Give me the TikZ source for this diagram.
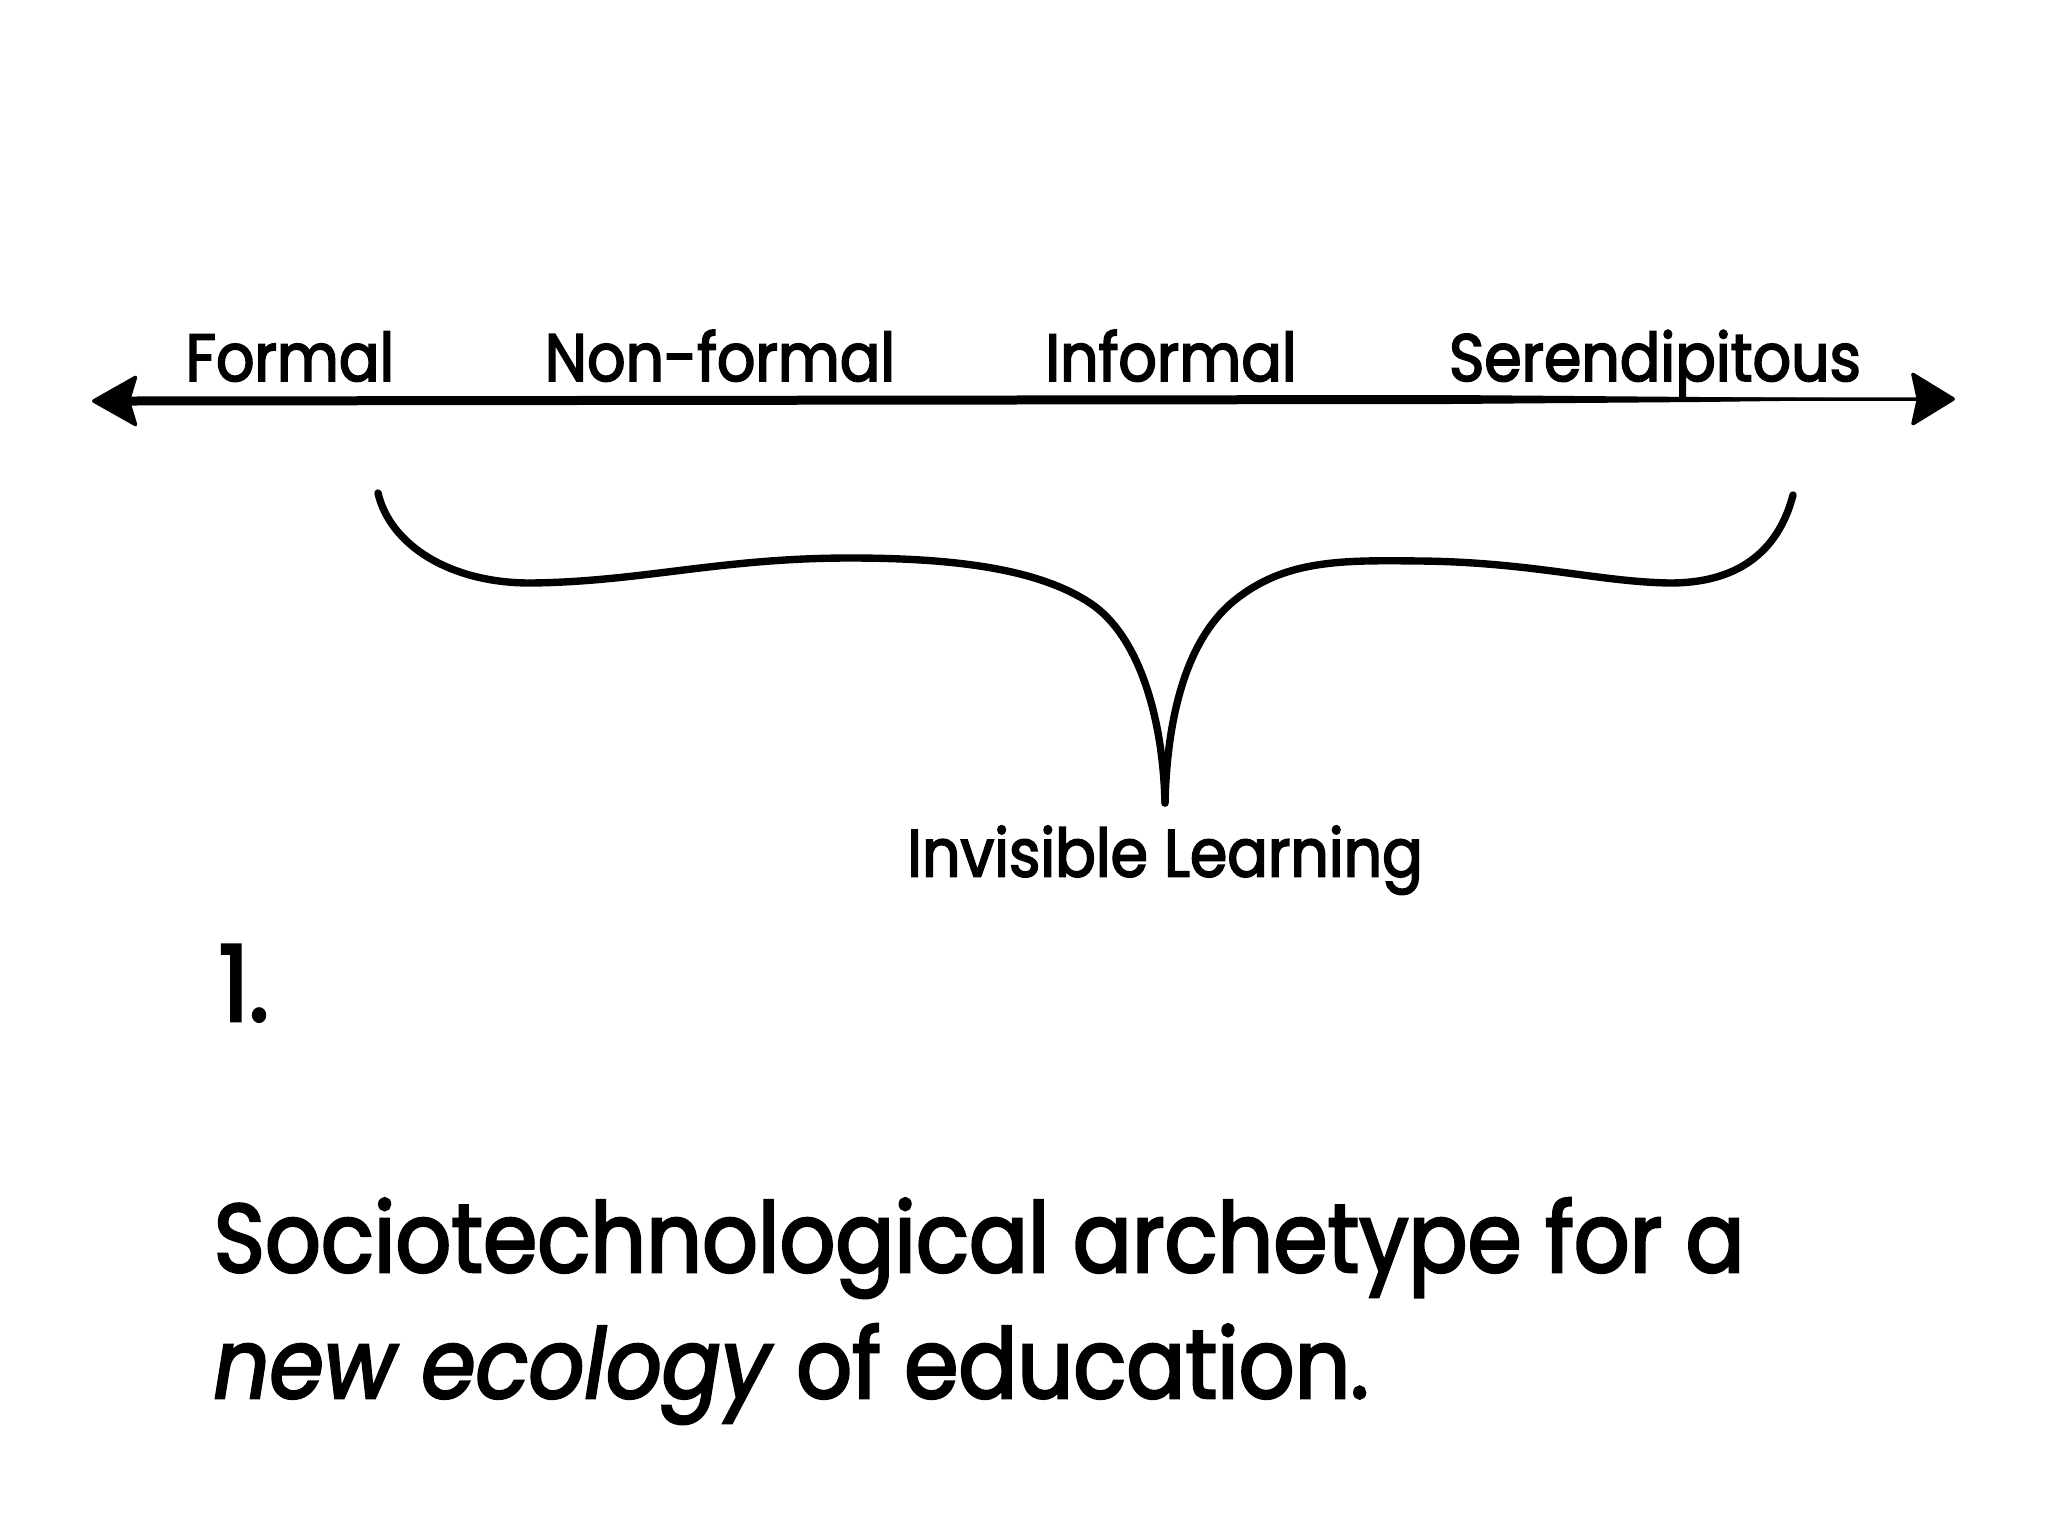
\documentclass[tikz,border=0pt]{standalone}
\usepackage{fontspec}
\setmainfont{Poppins}[FakeStretch=0.9, FakeBold=2.6]
\usepackage{tikz}
\usetikzlibrary{positioning}
\usetikzlibrary{arrows.meta}

\tikzset{
  kind/.style={inner sep=0pt, anchor=base, font=\fontsize{19}{22}\selectfont},
  headline/.style={inner sep=0pt, anchor=base west, font=\fontsize{27.6}{34}\selectfont},
  brush/.style={line width=2.1pt, line cap=round, line join=round}
}

\begin{document}
\begin{tikzpicture}[x=0.01cm,y=-0.01cm]
\useasboundingbox (0,0) rectangle (2048,1536);
% the axis
\coordinate (lefttip) at (92,401);
\coordinate (righttip) at (1955,399);
\path (lefttip) edge[{Stealth[length=0.48cm,width=0.54cm,inset=0.08cm,round]}-{Stealth[length=0.46cm,width=0.56cm,inset=0.06cm,round]}, line width=1pt] (righttip);
\fill (130,396.5) -- (1450,395) -- (1700,397) -- (1905,398.6) -- (1905,399.4) -- (1700,402) -- (1450,404) -- (130,405.5) -- cycle;
% labels
\node[kind](formal) at (290,381){Formal};
\node[kind](nonformal) at (720,381){Non-formal};
\node[kind](informal) at (1171,381){Informal};
\node[kind](seren) at (1655,381){Serendipitous};
% the brace
\coordinate (bracetip) at (1165,803);
\coordinate (braceleft) at (378,493);
\coordinate (braceright) at (1793,495);
\draw[brush] (braceleft) .. controls (390,545) and (450,583) .. (530,583)
  .. controls (640,582) and (720,558) .. (850,558)
  .. controls (960,558) and (1040,570) .. (1090,603)
  .. controls (1140,636) and (1163,720) .. (bracetip);
\draw[brush] (bracetip) .. controls (1167,720) and (1185,640) .. (1235,600)
  .. controls (1285,560) and (1340,560) .. (1420,561)
  .. controls (1530,562) and (1600,582) .. (1670,583)
  .. controls (1745,583) and (1780,545) .. (braceright);
\node[kind, below=0.22cm of bracetip, anchor=north](invisible){Invisible Learning};
% headline
\node[headline](num) at (218,1021){\fontsize{30}{34}\selectfont 1.};
\node[headline](line1) at (213,1272){Sociotechnological archetype for a};
\node[headline](line2) at (213,1398){\textit{new ecology} of education.};
\end{tikzpicture}
\end{document}
